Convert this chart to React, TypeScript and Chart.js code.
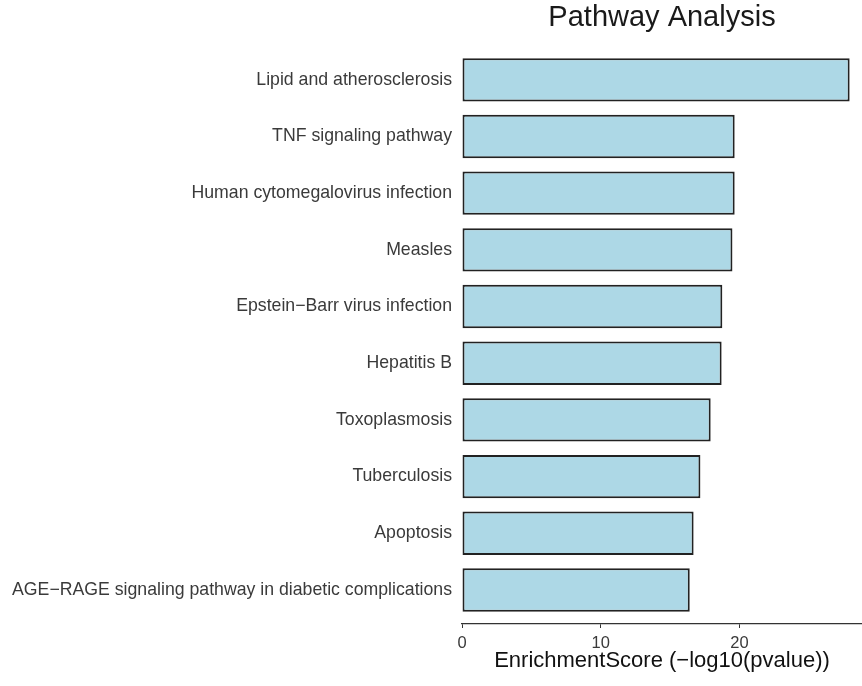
import React, { useEffect, useRef } from "react";
import { Chart, registerables } from "chart.js";

Chart.register(...registerables);

const categories: string[] = [
  "Lipid and atherosclerosis",
  "TNF signaling pathway",
  "Human cytomegalovirus infection",
  "Measles",
  "Epstein\u2212Barr virus infection",
  "Hepatitis B",
  "Toxoplasmosis",
  "Tuberculosis",
  "Apoptosis",
  "AGE\u2212RAGE signaling pathway in diabetic complications",
];

const enrichmentScores: number[] = [27.95, 19.66, 19.66, 19.5, 18.77, 18.72, 17.93, 17.19, 16.7, 16.42];

const xTicks: number[] = [0, 10, 20];

const chartTitle = "Pathway Analysis";
const xTitle = "EnrichmentScore (\u2212log10(pvalue))";

const FONT = "'Liberation Sans', Arial, Helvetica, sans-serif";

export default function App() {
  const canvasRef = useRef<HTMLCanvasElement | null>(null);

  useEffect(() => {
    const canvas = canvasRef.current;
    if (!canvas) return;
    const chart = new Chart(canvas, {
      type: "bar",
      data: {
        datasets: [
          {
            data: enrichmentScores.map((v, i) => ({ x: v, y: i })),
            backgroundColor: "#ADD8E6",
            borderColor: "#222222",
            borderWidth: 2,
            borderSkipped: false,
            barPercentage: 0.765,
            categoryPercentage: 1,
          },
        ],
      },
      options: {
        indexAxis: "y",
        responsive: false,
        animation: false,
        devicePixelRatio: 1,
        layout: { padding: 0 },
        plugins: {
          legend: { display: false },
          tooltip: { enabled: false },
          title: {
            display: true,
            text: chartTitle,
            fullSize: false,
            align: "center",
            color: "#1a1a1a",
            font: { family: FONT, size: 29, weight: "normal" },
            padding: { top: 1, bottom: 10 },
          },
        },
        scales: {
          x: {
            type: "linear",
            position: "bottom",
            min: 0,
            max: 28.84,
            offset: false,
            afterFit: (scale: any) => {
              scale.height = 62;
            },
            afterBuildTicks: (scale: any) => {
              scale.ticks = xTicks.map((v) => ({ value: v }));
            },
            ticks: {
              includeBounds: false,
              color: "#3a3a3a",
              font: { family: FONT, size: 16.5 },
              padding: 6,
              maxRotation: 0,
            },
            grid: {
              display: true,
              offset: false,
              drawOnChartArea: false,
              drawTicks: true,
              tickLength: 4,
              color: "#333",
              lineWidth: 1,
            },
            border: { display: true, color: "#333", width: 1.3 },
            title: {
              display: true,
              text: xTitle,
              color: "#111",
              font: { family: FONT, size: 22 },
              padding: { top: 0, bottom: 11.5 },
            },
          },
          y: {
            type: "linear",
            position: "left",
            reverse: true,
            offset: false,
            min: -0.6,
            max: 9.6,
            afterFit: (scale: any) => {
              scale.width = 462;
            },
            afterBuildTicks: (scale: any) => {
              scale.ticks = categories.map((_, i) => ({ value: i }));
            },
            ticks: {
              autoSkip: false,
              color: "#3a3a3a",
              font: { family: FONT, size: 17.7 },
              padding: 10,
              callback: (value: any) => categories[Number(value)] ?? "",
            },
            grid: { display: false, drawTicks: false, tickLength: 0, offset: false },
            border: { display: false },
          },
        },
      },
    } as any);
    return () => chart.destroy();
  }, []);

  return (
    <div style={{ position: "fixed", left: 0, top: 0, width: 862, height: 686, background: "#fff" }}>
      <canvas ref={canvasRef} width={862} height={686} style={{ width: 862, height: 686, display: "block" }} />
    </div>
  );
}
